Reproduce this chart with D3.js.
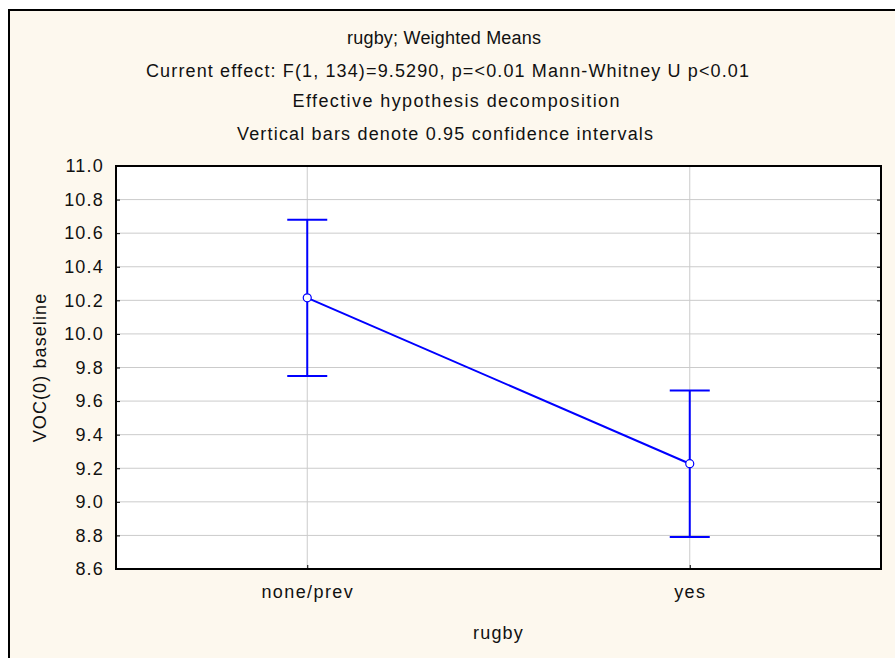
<!DOCTYPE html>
<html><head><meta charset="utf-8">
<script src="https://cdn.jsdelivr.net/npm/d3@7"></script>
<style>body{margin:0;background:#fff}svg{display:block}text{font-family:"Liberation Sans",Arial,sans-serif;fill:#111}</style>
</head><body><svg id="c" width="895" height="658"></svg>
<script>
const categories = ["none/prev", "yes"];
const means = [10.215, 9.227];
const upperCI = [10.68, 9.663];
const lowerCI = [9.75, 8.79];
const yTicks = [8.6, 8.8, 9.0, 9.2, 9.4, 9.6, 9.8, 10.0, 10.2, 10.4, 10.6, 10.8, 11.0];
const titleLines = ["rugby; Weighted Means",
  "Current effect: F(1, 134)=9.5290, p=<0.01 Mann-Whitney U p<0.01",
  "Effective hypothesis decomposition",
  "Vertical bars denote 0.95 confidence intervals"];
const xTitle = "rugby", yTitle = "VOC(0) baseline";

const FONT = '"Liberation Sans",Arial,sans-serif';
const svg = d3.select("#c");
const W = 895, H = 658;
const m = {l:116, t:166, r:881, b:569};
svg.append("rect").attr("x",0).attr("y",0).attr("width",W).attr("height",H).attr("fill","#fff");
svg.append("rect").attr("x",9).attr("y",10).attr("width",W).attr("height",H).attr("fill","#FDF8EE")
  .attr("stroke","#000").attr("stroke-width",2);

const x = d3.scalePoint().domain(categories).range([m.l, m.r]).padding(0.5);
const y = d3.scaleLinear().domain([8.6, 11.0]).range([m.b, m.t]);

svg.append("rect").attr("x",m.l).attr("y",m.t).attr("width",m.r-m.l).attr("height",m.b-m.t).attr("fill","#fff");

// gridlines
svg.append("g").selectAll("line").data(yTicks.slice(1,-1)).join("line")
  .attr("x1",m.l).attr("x2",m.r).attr("y1",d=>y(d)).attr("y2",d=>y(d))
  .attr("stroke","#CBCBCB").attr("stroke-width",1);
svg.append("g").selectAll("line").data(categories).join("line")
  .attr("y1",m.t).attr("y2",m.b).attr("x1",d=>x(d)).attr("x2",d=>x(d))
  .attr("stroke","#CBCBCB").attr("stroke-width",1);

// axes (inward ticks)
const yAxis = d3.axisLeft(y).tickValues(yTicks).tickFormat(d3.format(".1f")).tickSize(-4).tickPadding(12);
const gy = svg.append("g").attr("transform",`translate(${m.l},0)`).call(yAxis);
gy.select(".domain").remove();
gy.selectAll("line").attr("stroke","#000");
gy.selectAll("text").attr("font-size",18).attr("fill","#111").style("font-family",FONT).style("letter-spacing","1.2px");
const yAxisR = d3.axisRight(y).tickValues(yTicks).tickFormat("").tickSize(-4);
const gyr = svg.append("g").attr("transform",`translate(${m.r},0)`).call(yAxisR);
gyr.select(".domain").remove(); gyr.selectAll("line").attr("stroke","#000");

const xAxis = d3.axisBottom(x).tickSize(-4).tickPadding(16);
const gx = svg.append("g").attr("transform",`translate(0,${m.b})`).call(xAxis);
gx.select(".domain").remove();
gx.selectAll("line").attr("stroke","#000");
gx.selectAll("text").attr("font-size",18).attr("fill","#111").style("font-family",FONT).style("letter-spacing","1.4px");

// frame
svg.append("rect").attr("x",m.l).attr("y",m.t).attr("width",m.r-m.l).attr("height",m.b-m.t)
  .attr("fill","none").attr("stroke","#000").attr("stroke-width",2);

// error bars
const blue = "#0000FF";
const g = svg.append("g");
categories.forEach((c,i)=>{
  g.append("line").attr("x1",x(c)).attr("x2",x(c)).attr("y1",y(upperCI[i])).attr("y2",y(lowerCI[i]))
    .attr("stroke",blue).attr("stroke-width",2);
  [upperCI[i], lowerCI[i]].forEach(v=>{
    g.append("line").attr("x1",x(c)-20).attr("x2",x(c)+20).attr("y1",y(v)).attr("y2",y(v))
      .attr("stroke",blue).attr("stroke-width",2);
  });
});
const line = d3.line().x((d,i)=>x(categories[i])).y(d=>y(d));
g.append("path").datum(means).attr("d",line).attr("fill","none").attr("stroke",blue).attr("stroke-width",2);
g.selectAll("circle").data(means).join("circle")
  .attr("cx",(d,i)=>x(categories[i])).attr("cy",d=>y(d)).attr("r",4)
  .attr("fill","#fff").attr("stroke",blue).attr("stroke-width",1.2);

// titles (widths matched to reference rendering)
const tLayout = [{cx:444, y:44, w:194}, {cx:447.5, y:77, w:603}, {cx:456, y:107, w:327}, {cx:445, y:140, w:416}];
svg.append("g").selectAll("text").data(titleLines).join("text")
  .attr("x",(d,i)=>tLayout[i].cx).attr("y",(d,i)=>tLayout[i].y).attr("text-anchor","middle")
  .attr("font-size",18).attr("textLength",(d,i)=>tLayout[i].w).attr("lengthAdjust","spacing").text(d=>d);
svg.append("text").attr("x",(m.l+m.r)/2).attr("y",639).attr("text-anchor","middle").attr("font-size",18)
  .style("letter-spacing","1.2px").text(xTitle);
svg.append("text").attr("transform",`translate(46,${(m.t+m.b)/2}) rotate(-90)`).attr("text-anchor","middle")
  .attr("font-size",18).style("letter-spacing","1.1px").text(yTitle);
</script></body></html>
